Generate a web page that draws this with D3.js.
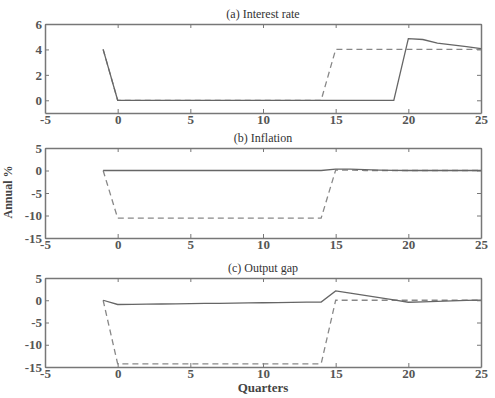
<!DOCTYPE html>
<html>
<head>
<meta charset="utf-8">
<script src="https://cdn.jsdelivr.net/npm/d3@7"></script>
<style>
body { margin: 0; background: white; }
</style>
</head>
<body>
<svg id="chart" width="495" height="398"></svg>
<script>
// quarters on the x axis
var quarters = d3.range(-1, 26);

// (a) interest rate
var rate_solid = [4, 0, 0, 0, 0, 0, 0, 0, 0, 0, 0, 0, 0, 0, 0, 0, 0, 0, 0, 0, 0, 4.85, 4.78, 4.5, 4.35, 4.22, 4.07];
var rate_dashed = [4, 0, 0, 0, 0, 0, 0, 0, 0, 0, 0, 0, 0, 0, 0, 0, 4, 4, 4, 4, 4, 4, 4, 4, 4, 4, 4];

// (b) inflation
var infl_solid = [0, 0, 0, 0, 0, 0, 0, 0, 0, 0, 0, 0, 0, 0, 0, 0, 0.3, 0.3, 0.2, 0.1, 0.05, 0, 0, 0, 0, 0, 0];
var infl_dashed = [0, -10.6, -10.6, -10.6, -10.6, -10.6, -10.6, -10.6, -10.6, -10.6, -10.6, -10.6, -10.6, -10.6, -10.6, -10.6, 0.1, 0.1, 0, 0, 0, 0, 0, 0, 0, 0, 0];

// (c) output gap
var gap_solid = [0, -0.95, -0.92, -0.88, -0.84, -0.8, -0.76, -0.72, -0.68, -0.64, -0.6, -0.56, -0.52, -0.48, -0.44, -0.4, 2.1, 1.6, 1.1, 0.6, 0.1, -0.45, -0.35, -0.25, -0.15, -0.05, 0.05];
var gap_dashed = [0, -14.3, -14.3, -14.3, -14.3, -14.3, -14.3, -14.3, -14.3, -14.3, -14.3, -14.3, -14.3, -14.3, -14.3, -14.3, 0, 0, 0, 0, 0, 0, 0, 0, 0, 0, 0];

var x_ticks = [-5, 0, 5, 10, 15, 20, 25];

var panels = [
    {title: "(a) Interest rate", top: 24, bottom: 113, domain: [-1, 6], ticks: [0, 2, 4, 6], solid: rate_solid, dashed: rate_dashed},
    {title: "(b) Inflation", top: 148, bottom: 238, domain: [-15, 5], ticks: [-15, -10, -5, 0, 5], solid: infl_solid, dashed: infl_dashed},
    {title: "(c) Output gap", top: 278, bottom: 367, domain: [-15, 5], ticks: [-15, -10, -5, 0, 5], solid: gap_solid, dashed: gap_dashed}
];

var serif = "'Liberation Serif', 'DejaVu Serif', serif";
var svg = d3.select("#chart");
var left = 45, right = 481;
var x = d3.scaleLinear().domain([-5, 25]).range([left, right]);
var axis_color = "#777";
var fmt = function(d) { return String(d); };

panels.forEach(function(p) {
    var y = d3.scaleLinear().domain(p.domain).range([p.bottom, p.top]);
    var g = svg.append("g");

    // inward ticks on all four sides
    var ax_b = g.append("g").attr("transform", "translate(0," + p.bottom + ")")
        .call(d3.axisBottom(x).tickValues(x_ticks).tickFormat(fmt).tickSizeInner(-4).tickSizeOuter(0).tickPadding(2));
    var ax_t = g.append("g").attr("transform", "translate(0," + p.top + ")")
        .call(d3.axisTop(x).tickValues(x_ticks).tickSizeInner(-4).tickSizeOuter(0).tickFormat(""));
    var ax_l = g.append("g").attr("transform", "translate(" + left + ",0)")
        .call(d3.axisLeft(y).tickValues(p.ticks).tickFormat(fmt).tickSizeInner(-4).tickSizeOuter(0).tickPadding(3));
    var ax_r = g.append("g").attr("transform", "translate(" + right + ",0)")
        .call(d3.axisRight(y).tickValues(p.ticks).tickSizeInner(-4).tickSizeOuter(0).tickFormat(""));

    [ax_b, ax_t, ax_l, ax_r].forEach(function(a) {
        a.attr("font-family", null).attr("font-size", null);
        a.select(".domain").attr("stroke", axis_color).attr("stroke-width", 1.5);
        a.selectAll(".tick line").attr("stroke", axis_color).attr("stroke-width", 1);
        a.selectAll("text").style("font-family", serif)
            .style("font-size", "13px").style("font-weight", "bold").attr("fill", "#555");
    });

    var line = d3.line().x(function(d, i) { return x(quarters[i]); }).y(function(d) { return y(d); });

    g.append("path").datum(p.dashed).attr("d", line)
        .attr("fill", "none").attr("stroke", "#888").attr("stroke-width", 1.3)
        .attr("stroke-dasharray", "6,4");
    g.append("path").datum(p.solid).attr("d", line)
        .attr("fill", "none").attr("stroke", "#666").attr("stroke-width", 1.3);

    g.append("text").attr("x", (left + right) / 2).attr("y", p.top - 6)
        .attr("text-anchor", "middle").style("font-family", serif).style("font-size", "12px")
        .attr("fill", "#333").text(p.title);
});

svg.append("text").attr("transform", "translate(12,192) rotate(-90)")
    .attr("text-anchor", "middle").style("font-family", serif).style("font-size", "12px")
    .style("font-weight", "bold").attr("fill", "#444")
    .text("Annual %");

svg.append("text").attr("x", (left + right) / 2).attr("y", 392)
    .attr("text-anchor", "middle").style("font-family", serif).style("font-size", "13px")
    .style("font-weight", "bold").attr("fill", "#444")
    .text("Quarters");
</script>
</body>
</html>
